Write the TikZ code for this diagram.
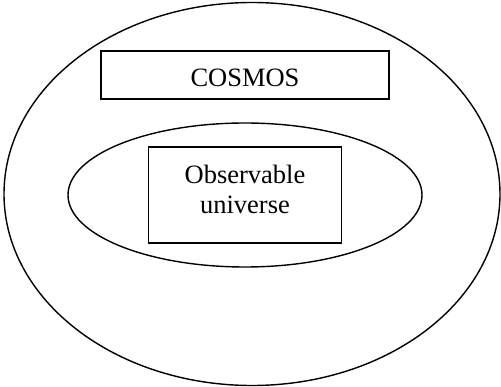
\documentclass[tikz,border=0pt]{standalone}
\usepackage{fontspec}
\setmainfont{Liberation Serif}
\usetikzlibrary{shapes.geometric}

\begin{document}
\begin{tikzpicture}[
        x=1pt, y=-1pt,
        bigoval/.style={ellipse, draw=black, line width=1.4pt, inner sep=0pt},
        namebox/.style={rectangle, draw=black, line width=1.5pt, inner sep=0pt, align=center, font=\fontsize{26.5}{30}\selectfont}
    ]
    \useasboundingbox (0,0) rectangle (501,387);

    % outer oval - the cosmos
    \node[bigoval, minimum width=496pt, minimum height=383pt] (cosmos) at (252,194) {};
    \node[namebox, minimum width=288pt, minimum height=48pt, text height=23.5pt] (cosmosbox) at (245,75) {COSMOS};

    % inner oval - what we can see
    \node[bigoval, minimum width=354pt, minimum height=144pt] (seen) at (245,195) {};
    \node[namebox, minimum width=193pt, minimum height=96pt, text depth=12pt] (obsbox) at (245,195) {Observable\\universe};
\end{tikzpicture}
\end{document}
